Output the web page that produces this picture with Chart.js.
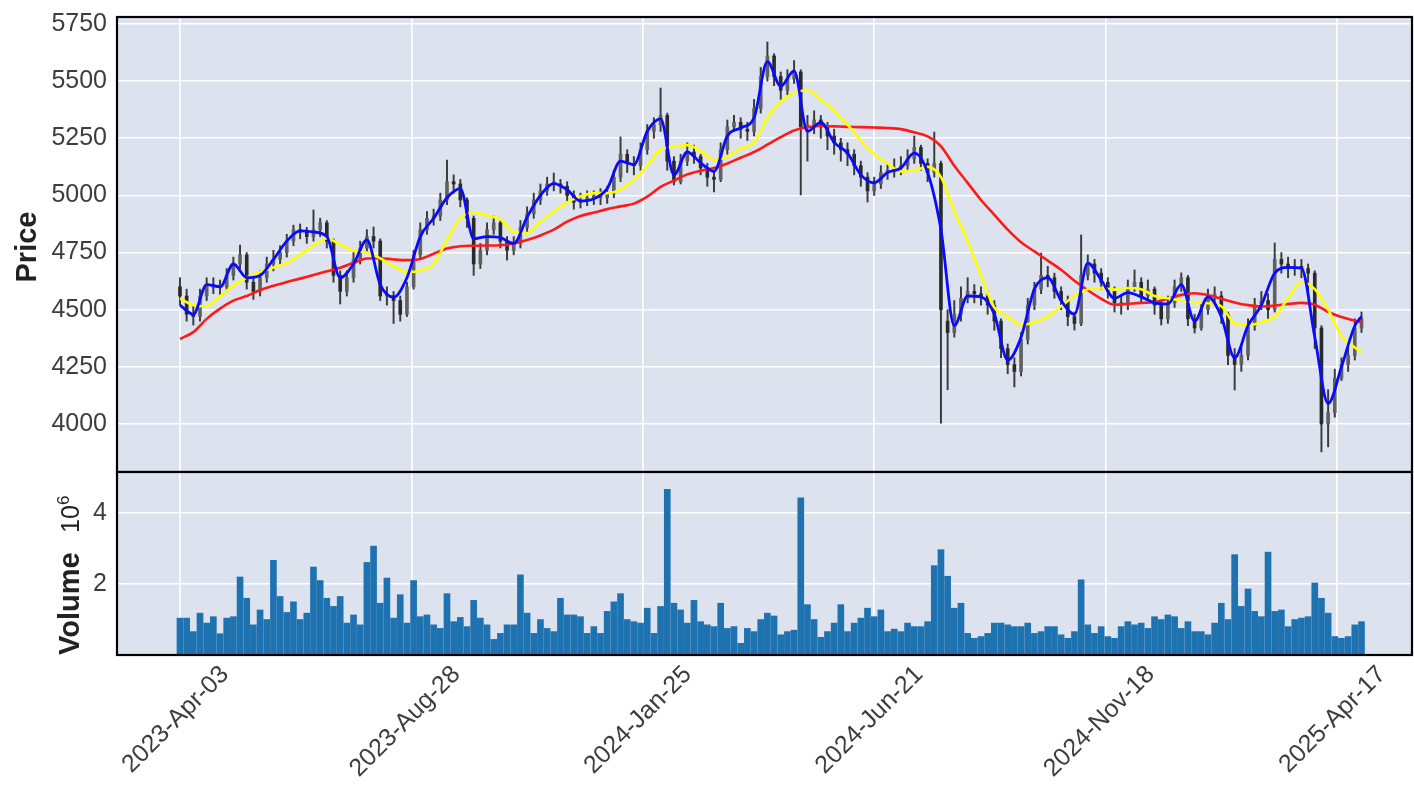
<!DOCTYPE html>
<html>
<head>
<meta charset="utf-8">
<script src="https://cdn.jsdelivr.net/npm/chart.js@4.4.1/dist/chart.umd.min.js"></script>
<style>
  html, body { margin: 0; padding: 0; background: #fff; }
  #wrap { position: relative; width: 1414px; height: 786px; overflow: hidden; }
  #priceCanvas { position: absolute; left: 0; top: 0; }
  #volCanvas { position: absolute; left: 0; top: 462px; }
</style>
</head>
<body>
<div id="wrap">
  <canvas id="priceCanvas" width="1414" height="474"></canvas>
  <canvas id="volCanvas" width="1414" height="324"></canvas>
</div>
<script>
// x axis is the trading-day index; each drawn candle covers 3 days
const candleStep = 3;
const maStep = 6;
const tickIdx = [0, 104, 208, 312, 416, 520];
const tickLabels = ['2023-Apr-03', '2023-Aug-28', '2024-Jan-25', '2024-Jun-21', '2024-Nov-18', '2025-Apr-17'];
const priceTicks = [4000, 4250, 4500, 4750, 5000, 5250, 5500, 5750];
const volTicks = [2, 4];

const opens = [
  4600,4560,4480,4470,4560,4610,4600,4600,4650,4700,
  4740,4620,4580,4640,4700,4720,4750,4800,4850,4840,
  4820,4850,4880,4800,4650,4580,4640,4720,4770,4820,
  4800,4560,4560,4540,4480,4600,4740,4850,4900,4910,
  4980,5060,5050,4980,4900,4700,4760,4850,4880,4800,
  4760,4790,4860,4920,4980,5020,5050,5050,5040,5000,
  4970,4980,4990,4990,4990,5010,5080,5180,5140,5130,
  5200,5280,5310,5350,5150,5060,5150,5190,5170,5120,
  5080,5070,5200,5300,5320,5290,5280,5380,5520,5610,
  5520,5460,5510,5540,5300,5300,5330,5300,5260,5230,
  5200,5180,5130,5080,5020,5050,5100,5110,5120,5130,
  5160,5210,5140,5100,5140,4450,4400,4480,4550,4580,
  4570,4560,4520,4450,4330,4260,4230,4370,4520,4590,
  4650,4640,4580,4540,4470,4440,4650,4700,4660,4620,
  4580,4530,4520,4600,4620,4560,4590,4520,4460,4530,
  4600,4640,4460,4420,4500,4560,4560,4480,4300,4260,
  4300,4430,4520,4540,4500,4720,4700,4680,4690,4680,
  4660,4420,4000,4050,4200,4260,4300,4420
];
const closes = [
  4560,4480,4470,4560,4610,4600,4600,4650,4700,4740,
  4620,4580,4640,4700,4720,4750,4800,4850,4840,4820,
  4850,4880,4800,4650,4580,4640,4720,4770,4820,4800,
  4560,4560,4540,4480,4600,4740,4850,4900,4910,4980,
  5060,5050,4980,4900,4700,4760,4850,4880,4800,4760,
  4790,4860,4920,4980,5020,5050,5050,5040,5000,4970,
  4980,4990,4990,4990,5010,5080,5180,5140,5130,5200,
  5280,5310,5350,5150,5060,5150,5190,5170,5120,5080,
  5070,5200,5300,5320,5290,5280,5380,5520,5610,5520,
  5460,5510,5540,5300,5300,5330,5300,5260,5230,5200,
  5180,5130,5080,5020,5050,5100,5110,5120,5130,5160,
  5210,5140,5100,5140,4500,4400,4480,4550,4580,4570,
  4560,4520,4450,4330,4260,4230,4370,4520,4590,4650,
  4640,4580,4540,4470,4440,4650,4700,4660,4620,4580,
  4530,4520,4600,4620,4560,4590,4520,4460,4530,4600,
  4640,4460,4420,4500,4560,4560,4480,4300,4260,4300,
  4430,4520,4540,4500,4720,4700,4680,4690,4680,4660,
  4420,4000,4050,4200,4260,4300,4420,4460
];
const highs = [
  4640,4590,4520,4590,4640,4640,4630,4680,4730,4783,
  4750,4640,4670,4730,4760,4780,4830,4870,4875,4860,
  4936,4900,4890,4810,4670,4670,4750,4800,4850,4862,
  4810,4600,4580,4560,4620,4760,4880,4930,4940,5010,
  5155,5090,5070,4990,4910,4790,4880,4910,4890,4820,
  4820,4890,4950,5010,5050,5080,5098,5070,5060,5020,
  5010,5020,5020,5030,5040,5110,5256,5200,5170,5230,
  5310,5340,5470,5360,5170,5180,5230,5220,5180,5140,
  5110,5230,5330,5350,5340,5320,5420,5560,5671,5620,
  5540,5550,5590,5550,5350,5370,5350,5320,5290,5250,
  5230,5200,5150,5100,5080,5130,5140,5160,5170,5200,
  5260,5220,5160,5277,5150,4500,4540,4600,4640,4610,
  4600,4580,4540,4460,4350,4290,4400,4550,4620,4748,
  4690,4660,4600,4560,4490,4827,4740,4720,4680,4640,
  4600,4560,4630,4674,4640,4630,4600,4540,4560,4630,
  4661,4650,4480,4530,4590,4600,4580,4490,4330,4340,
  4460,4550,4580,4570,4792,4750,4730,4720,4720,4700,
  4670,4430,4150,4240,4290,4340,4460,4490
];
const lows = [
  4520,4450,4433,4450,4540,4570,4565,4580,4630,4680,
  4590,4545,4560,4620,4670,4700,4730,4780,4810,4790,
  4800,4820,4770,4620,4525,4560,4620,4700,4750,4770,
  4540,4520,4440,4450,4470,4590,4720,4830,4870,4890,
  4960,5010,4950,4860,4650,4680,4740,4830,4770,4717,
  4740,4770,4840,4900,4960,5000,5020,5010,4970,4940,
  4945,4955,4960,4960,4965,4990,5060,5100,5090,5110,
  5180,5250,5280,5110,5046,5050,5130,5140,5090,5040,
  5015,5060,5180,5280,5250,5240,5260,5360,5500,5480,
  5420,5440,5490,5002,5150,5270,5250,5200,5180,5150,
  5130,5090,5040,4971,5000,5030,5070,5080,5090,5110,
  5140,5110,5060,5080,4004,4150,4380,4450,4530,4530,
  4520,4480,4410,4290,4220,4162,4210,4350,4500,4570,
  4600,4550,4500,4430,4411,4430,4630,4620,4590,4550,
  4490,4480,4500,4580,4530,4540,4480,4433,4440,4510,
  4580,4430,4398,4410,4480,4520,4440,4260,4149,4230,
  4280,4410,4500,4460,4490,4660,4640,4650,4640,4560,
  4330,3878,3900,4030,4190,4230,4280,4400
];
// volume in millions
const volumes = [
  1.04,1.04,0.66,1.18,0.9,1.08,0.6,1.04,1.08,2.2,
  1.6,0.85,1.27,1.0,2.67,1.65,1.2,1.5,1.0,1.18,
  2.48,2.1,1.6,1.37,1.65,0.9,1.13,0.85,2.61,3.07,
  1.46,2.17,1.04,1.7,0.9,2.1,1.08,1.13,0.85,0.75,
  1.73,0.94,1.06,0.8,1.54,1.04,0.85,0.44,0.61,0.85,
  0.85,2.26,1.18,0.61,1.0,0.75,0.66,1.6,1.13,1.13,
  1.08,0.61,0.8,0.61,1.23,1.5,1.73,1.0,0.94,0.9,
  1.32,0.61,1.37,4.67,1.46,1.27,0.9,1.54,0.94,0.85,
  0.8,1.46,0.75,0.8,0.33,0.75,0.66,1.0,1.18,1.1,
  0.57,0.66,0.7,4.43,1.42,1.0,0.5,0.66,0.9,1.42,
  0.66,0.9,1.04,1.32,1.08,1.27,0.66,0.73,0.66,0.9,
  0.8,0.8,0.94,2.52,2.97,2.22,1.32,1.46,0.61,0.47,
  0.52,0.61,0.9,0.9,0.85,0.8,0.8,0.9,0.61,0.66,
  0.8,0.8,0.57,0.47,0.66,2.12,0.85,0.61,0.8,0.52,
  0.47,0.8,0.94,0.85,0.9,0.75,1.08,1.0,1.13,1.08,
  0.75,0.94,0.66,0.66,0.57,0.9,1.46,1.0,2.83,1.37,
  1.86,1.23,1.08,2.9,1.23,1.27,0.8,1.0,1.04,1.08,
  2.03,1.6,1.18,0.52,0.47,0.52,0.85,0.94
];
// moving averages read every 6 days, last point is the final day
const maShort = [
  4520,4480,4610,4600,4700,4640,4650,4720,4800,4845,
  4840,4820,4640,4700,4805,4610,4555,4640,4820,4900,
  4990,5030,4810,4820,4815,4790,4905,5000,5052,5025,
  4975,4985,5030,5150,5135,5280,5335,5090,5190,5142,
  5105,5260,5295,5340,5585,5478,5545,5280,5320,5232,
  5185,5090,5055,5100,5120,5185,5100,4850,4430,4560,
  4556,4480,4280,4380,4590,4640,4540,4480,4704,4630,
  4550,4575,4556,4530,4525,4610,4450,4556,4470,4290,
  4430,4520,4660,4685,4682,4381,4090,4250,4430,4470
];
const maMid = [
  4550,4520,4515,4560,4605,4640,4665,4685,4705,4740,
  4780,4812,4785,4758,4750,4725,4690,4665,4672,4700,
  4805,4900,4925,4912,4895,4840,4835,4884,4930,4970,
  4995,5010,5010,5025,5070,5130,5200,5212,5220,5195,
  5155,5170,5205,5232,5340,5410,5448,5460,5420,5370,
  5310,5240,5180,5140,5105,5110,5125,5080,4930,4800,
  4650,4510,4470,4433,4445,4470,4515,4560,4590,4595,
  4588,4595,4590,4560,4550,4540,4530,4528,4515,4440,
  4432,4445,4470,4550,4620,4590,4500,4385,4335,4315
];
const maLong = [
  4372,4402,4460,4505,4540,4560,4586,4605,4621,4636,
  4652,4668,4684,4705,4724,4725,4720,4717,4722,4745,
  4768,4778,4780,4781,4782,4790,4805,4825,4850,4885,
  4910,4925,4940,4952,4964,4995,5037,5065,5092,5108,
  5120,5140,5165,5190,5222,5255,5284,5298,5304,5302,
  5300,5299,5297,5295,5290,5276,5258,5215,5130,5055,
  4980,4915,4850,4795,4755,4715,4675,4627,4585,4548,
  4522,4526,4530,4533,4548,4565,4572,4564,4548,4532,
  4520,4514,4518,4525,4530,4522,4490,4468,4452,4446
];

var lastIdx = (closes.length - 1) * candleStep;
var xMin = -28.3, xMax = 553.7;
var tickColor = '#3d3d3d';
var fontFam = '"Liberation Sans", Arial, sans-serif';

function maPoints(arr) {
  return arr.map(function (v, j) {
    return { x: j < arr.length - 1 ? j * maStep : lastIdx, y: v };
  });
}

var candleCol = closes.map(function (c, k) { return c >= opens[k] ? '#606060' : '#2a2a2a'; });
var wickData = highs.map(function (h, k) { return { x: k * candleStep, y: [lows[k], h] }; });
var bodyData = closes.map(function (c, k) { return { x: k * candleStep, y: [opens[k], c] }; });
var volData = volumes.map(function (v, k) { return { x: k * candleStep, y: v }; });

function panelPlugin(titles) {
  return {
    id: 'panel',
    beforeDraw: function (chart) {
      var a = chart.chartArea, ctx = chart.ctx;
      ctx.save();
      ctx.fillStyle = '#dce3ef';
      ctx.fillRect(a.left, a.top, a.right - a.left, a.bottom - a.top);
      ctx.restore();
    },
    afterDraw: function (chart) {
      var a = chart.chartArea, ctx = chart.ctx;
      ctx.save();
      ctx.strokeStyle = '#000';
      ctx.lineWidth = 2.2;
      ctx.strokeRect(a.left, a.top, a.right - a.left, a.bottom - a.top);
      titles.forEach(function (t) {
        ctx.save();
        ctx.translate(t.x, t.y);
        ctx.rotate(-Math.PI / 2);
        ctx.fillStyle = '#222';
        ctx.font = t.font;
        ctx.textAlign = t.align;
        ctx.textBaseline = 'alphabetic';
        ctx.fillText(t.text, 0, 0);
        ctx.restore();
      });
      ctx.restore();
    }
  };
}

function xScale(showLabels) {
  return {
    type: 'linear',
    min: xMin,
    max: xMax,
    offset: false,
    afterBuildTicks: function (s) { s.ticks = tickIdx.map(function (v) { return { value: v }; }); },
    afterFit: function (s) {
      s.height = showLabels ? 131 : 0;
      s.paddingLeft = 0;
      s.paddingRight = 0;
    },
    ticks: {
      display: showLabels,
      autoSkip: false,
      maxRotation: 45,
      minRotation: 45,
      labelOffset: 45,
      padding: 5,
      color: tickColor,
      font: { family: fontFam, size: 25 },
      callback: function (v) { return tickLabels[tickIdx.indexOf(v)]; }
    },
    grid: { color: '#ffffff', lineWidth: 1.6, drawTicks: false, offset: false },
    border: { display: false }
  };
}

function yScale(min, max, ticks) {
  return {
    min: min,
    max: max,
    afterBuildTicks: function (s) { s.ticks = ticks.map(function (v) { return { value: v }; }); },
    afterFit: function (s) {
      s.width = 117;
      s.paddingTop = 0;
      s.paddingBottom = 0;
    },
    ticks: {
      color: tickColor,
      padding: 10,
      font: { family: fontFam, size: 25 },
      callback: function (v) { return String(v); }
    },
    grid: { color: '#ffffff', lineWidth: 1.6, drawTicks: false },
    border: { display: false }
  };
}

new Chart(document.getElementById('priceCanvas'), {
  type: 'bar',
  data: {
    datasets: [
      { type: 'line', label: 'MA short', data: maPoints(maShort), borderColor: '#0a0aff', borderWidth: 2.8, pointRadius: 0, cubicInterpolationMode: 'monotone', order: 1 },
      { type: 'line', label: 'MA mid', data: maPoints(maMid), borderColor: '#ffff00', borderWidth: 2.6, pointRadius: 0, cubicInterpolationMode: 'monotone', order: 2 },
      { type: 'line', label: 'MA long', data: maPoints(maLong), borderColor: '#ff1a1a', borderWidth: 2.6, pointRadius: 0, cubicInterpolationMode: 'monotone', order: 3 },
      { type: 'bar', label: 'body', data: bodyData, backgroundColor: candleCol, barThickness: 3, minBarLength: 2, grouped: false, order: 4 },
      { type: 'bar', label: 'wick', data: wickData, backgroundColor: '#3a3a3a', barThickness: 1.3, grouped: false, order: 5 }
    ]
  },
  options: {
    responsive: false,
    animation: false,
    layout: { padding: { top: 17, right: 2, bottom: 2, left: 0 } },
    plugins: { legend: { display: false }, tooltip: { enabled: false } },
    scales: { x: xScale(false), y: yScale(3790, 5780.6, priceTicks) }
  },
  plugins: [panelPlugin([
    { text: 'Price', x: 36, y: 247, align: 'center', font: 'bold 29px ' + fontFam }
  ])]
});

new Chart(document.getElementById('volCanvas'), {
  type: 'bar',
  data: {
    datasets: [
      { label: 'Volume', data: volData, backgroundColor: '#1f72b0', barThickness: 6, grouped: false }
    ]
  },
  options: {
    responsive: false,
    animation: false,
    layout: { padding: { top: 10, right: 2, bottom: 0, left: 0 } },
    plugins: { legend: { display: false }, tooltip: { enabled: false } },
    scales: { x: xScale(true), y: yScale(0, 5.16, volTicks) }
  },
  plugins: [panelPlugin([
    { text: 'Volume', x: 79, y: 193, align: 'left', font: 'bold 29px ' + fontFam },
    { text: '10', x: 79, y: 71, align: 'left', font: '25px ' + fontFam },
    { text: '6', x: 69, y: 43, align: 'left', font: '17px ' + fontFam }
  ])]
});
</script>
</body>
</html>
